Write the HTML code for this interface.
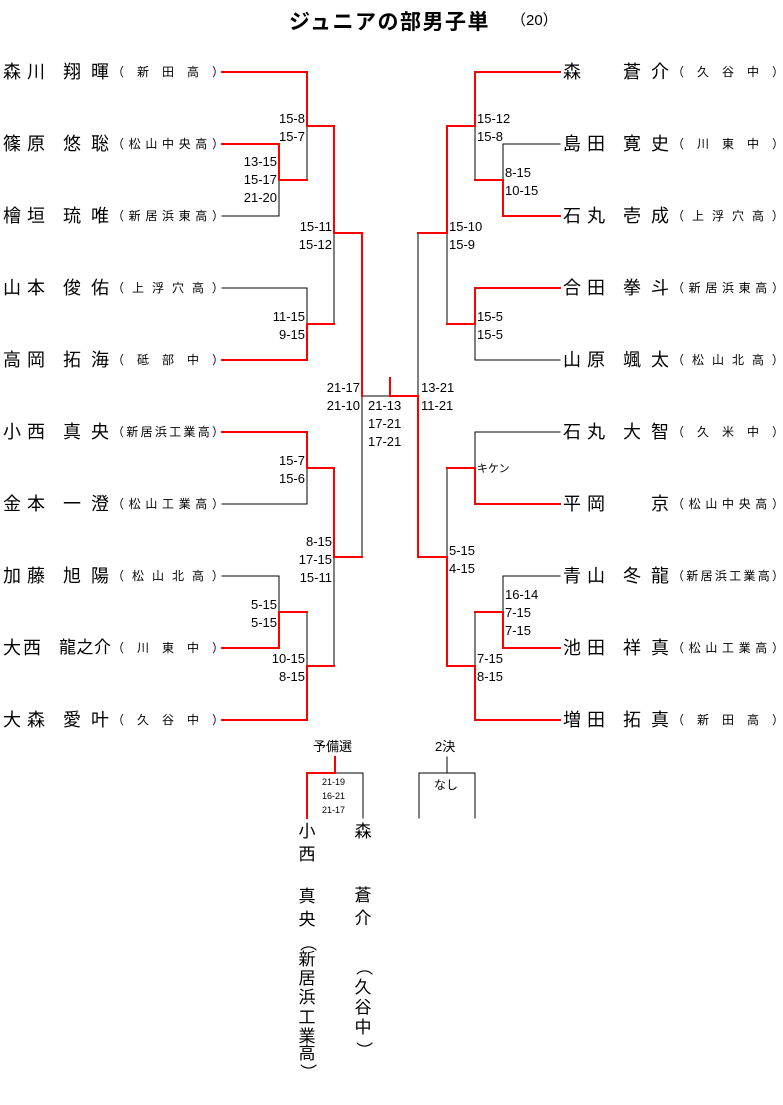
<!DOCTYPE html>
<html><head><meta charset="utf-8"><style>
body{margin:0;background:#fff;width:783px;height:1105px;position:relative;overflow:hidden;font-family:"Liberation Sans","Noto Sans CJK JP",sans-serif;color:#000}
.n{position:absolute;height:22px;font-size:18px;line-height:22px}
.f,.g,.s{position:absolute;top:0;display:flex;justify-content:space-between}
.f{left:0;width:42px}
.g{left:60px;width:46px}
.g.one{justify-content:flex-end}
.s{left:109px;width:112px;font-size:12px}
.sc{position:absolute;font-size:13px;line-height:18px;white-space:pre}
.r{text-align:right}
svg{position:absolute;left:0;top:0}
.v{position:absolute;font-size:17px;line-height:20px;width:20px;text-align:center}
.p{transform:rotate(90deg)}
</style></head><body>
<div style="position:absolute;left:289px;top:6px;font-size:21px;font-weight:bold;letter-spacing:1.5px">ジュニアの部男子単</div>
<div style="position:absolute;left:511px;top:9px;font-size:15px">（20）</div>

<svg width="783" height="1105" fill="none" stroke-linecap="square">
<g stroke="#000" stroke-width="1">
<path d="M222 216H279V180 M307 126V180 M222 288H307V324 M334 233V324 M362 396V557 M362 396H390 M222 504H307V468 M222 576H279V612 M307 612V666 M334 557V666"/>
<path d="M418 233V396 M560 144H503V180 M475 126V180 M447 233V324 M560 360H475V324 M560 432H475V468 M447 468V557 M560 576H503V612 M475 612V666"/>
<path d="M363 773H335 M363 773V818 M447 757V773 M419 818V773H475V818"/>
</g>
<g stroke="#f00" stroke-width="2">
<path d="M222 72H307V126H334V233H362V396 M222 144H279V180H307 M222 360H307V324H334 M222 432H307V468H334V557H362 M222 648H279V612H307 M222 720H307V666H334"/>
<path d="M390 378V396H418V557H447V666H475V720H560 M560 72H475V126H447V233H418 M560 216H503V180H475 M560 288H475V324H447 M447 468H475V504H560 M560 648H503V612H475 M447 666H475"/>
<path d="M335 757V773H307V818"/>
</g>
</svg>

<div class="n" style="left:3px;top:61px"><div class="f"><span>森</span><span>川</span></div><div class="g"><span>翔</span><span>暉</span></div><div class="s"><span>（</span><span>新</span><span>田</span><span>高</span><span>）</span></div></div>
<div class="n" style="left:3px;top:133px"><div class="f"><span>篠</span><span>原</span></div><div class="g"><span>悠</span><span>聡</span></div><div class="s"><span>（</span><span>松</span><span>山</span><span>中</span><span>央</span><span>高</span><span>）</span></div></div>
<div class="n" style="left:3px;top:205px"><div class="f"><span>檜</span><span>垣</span></div><div class="g"><span>琉</span><span>唯</span></div><div class="s"><span>（</span><span>新</span><span>居</span><span>浜</span><span>東</span><span>高</span><span>）</span></div></div>
<div class="n" style="left:3px;top:277px"><div class="f"><span>山</span><span>本</span></div><div class="g"><span>俊</span><span>佑</span></div><div class="s"><span>（</span><span>上</span><span>浮</span><span>穴</span><span>高</span><span>）</span></div></div>
<div class="n" style="left:3px;top:349px"><div class="f"><span>高</span><span>岡</span></div><div class="g"><span>拓</span><span>海</span></div><div class="s"><span>（</span><span>砥</span><span>部</span><span>中</span><span>）</span></div></div>
<div class="n" style="left:3px;top:421px"><div class="f"><span>小</span><span>西</span></div><div class="g"><span>真</span><span>央</span></div><div class="s"><span>（</span><span>新</span><span>居</span><span>浜</span><span>工</span><span>業</span><span>高</span><span>）</span></div></div>
<div class="n" style="left:3px;top:493px"><div class="f"><span>金</span><span>本</span></div><div class="g"><span>一</span><span>澄</span></div><div class="s"><span>（</span><span>松</span><span>山</span><span>工</span><span>業</span><span>高</span><span>）</span></div></div>
<div class="n" style="left:3px;top:565px"><div class="f"><span>加</span><span>藤</span></div><div class="g"><span>旭</span><span>陽</span></div><div class="s"><span>（</span><span>松</span><span>山</span><span>北</span><span>高</span><span>）</span></div></div>
<div class="n" style="left:3px;top:637px"><div class="f" style="width:38px"><span>大</span><span>西</span></div><div class="g" style="left:56px;width:52px;font-size:17px"><span>龍</span><span>之</span><span>介</span></div><div class="s"><span>（</span><span>川</span><span>東</span><span>中</span><span>）</span></div></div>
<div class="n" style="left:3px;top:709px"><div class="f"><span>大</span><span>森</span></div><div class="g"><span>愛</span><span>叶</span></div><div class="s"><span>（</span><span>久</span><span>谷</span><span>中</span><span>）</span></div></div>

<div class="n" style="left:563px;top:61px"><div class="f"><span>森</span></div><div class="g"><span>蒼</span><span>介</span></div><div class="s"><span>（</span><span>久</span><span>谷</span><span>中</span><span>）</span></div></div>
<div class="n" style="left:563px;top:133px"><div class="f"><span>島</span><span>田</span></div><div class="g"><span>寛</span><span>史</span></div><div class="s"><span>（</span><span>川</span><span>東</span><span>中</span><span>）</span></div></div>
<div class="n" style="left:563px;top:205px"><div class="f"><span>石</span><span>丸</span></div><div class="g"><span>壱</span><span>成</span></div><div class="s"><span>（</span><span>上</span><span>浮</span><span>穴</span><span>高</span><span>）</span></div></div>
<div class="n" style="left:563px;top:277px"><div class="f"><span>合</span><span>田</span></div><div class="g"><span>拳</span><span>斗</span></div><div class="s"><span>（</span><span>新</span><span>居</span><span>浜</span><span>東</span><span>高</span><span>）</span></div></div>
<div class="n" style="left:563px;top:349px"><div class="f"><span>山</span><span>原</span></div><div class="g"><span>颯</span><span>太</span></div><div class="s"><span>（</span><span>松</span><span>山</span><span>北</span><span>高</span><span>）</span></div></div>
<div class="n" style="left:563px;top:421px"><div class="f"><span>石</span><span>丸</span></div><div class="g"><span>大</span><span>智</span></div><div class="s"><span>（</span><span>久</span><span>米</span><span>中</span><span>）</span></div></div>
<div class="n" style="left:563px;top:493px"><div class="f"><span>平</span><span>岡</span></div><div class="g one"><span>京</span></div><div class="s"><span>（</span><span>松</span><span>山</span><span>中</span><span>央</span><span>高</span><span>）</span></div></div>
<div class="n" style="left:563px;top:565px"><div class="f"><span>青</span><span>山</span></div><div class="g"><span>冬</span><span>龍</span></div><div class="s"><span>（</span><span>新</span><span>居</span><span>浜</span><span>工</span><span>業</span><span>高</span><span>）</span></div></div>
<div class="n" style="left:563px;top:637px"><div class="f"><span>池</span><span>田</span></div><div class="g"><span>祥</span><span>真</span></div><div class="s"><span>（</span><span>松</span><span>山</span><span>工</span><span>業</span><span>高</span><span>）</span></div></div>
<div class="n" style="left:563px;top:709px"><div class="f"><span>増</span><span>田</span></div><div class="g"><span>拓</span><span>真</span></div><div class="s"><span>（</span><span>新</span><span>田</span><span>高</span><span>）</span></div></div>

<div class="sc r" style="right:478px;top:110px">15-8
15-7</div>
<div class="sc r" style="right:506px;top:153px">13-15
15-17
21-20</div>
<div class="sc r" style="right:451px;top:218px">15-11
15-12</div>
<div class="sc r" style="right:478px;top:308px">11-15
9-15</div>
<div class="sc r" style="right:423px;top:379px">21-17
21-10</div>
<div class="sc r" style="right:478px;top:452px">15-7
15-6</div>
<div class="sc r" style="right:451px;top:533px">8-15
17-15
15-11</div>
<div class="sc r" style="right:506px;top:596px">5-15
5-15</div>
<div class="sc r" style="right:478px;top:650px">10-15
8-15</div>
<div class="sc" style="left:368px;top:397px">21-13
17-21
17-21</div>
<div class="sc" style="left:421px;top:379px">13-21
11-21</div>
<div class="sc" style="left:477px;top:110px">15-12
15-8</div>
<div class="sc" style="left:505px;top:164px">8-15
10-15</div>
<div class="sc" style="left:449px;top:218px">15-10
15-9</div>
<div class="sc" style="left:477px;top:308px">15-5
15-5</div>
<div class="sc" style="left:477px;top:460px;font-size:11px">キケン</div>
<div class="sc" style="left:449px;top:542px">5-15
4-15</div>
<div class="sc" style="left:505px;top:586px">16-14
7-15
7-15</div>
<div class="sc" style="left:477px;top:650px">7-15
8-15</div>

<div class="sc" style="left:313px;top:738px;font-size:13px">予備選</div>
<div class="sc" style="left:435px;top:738px;font-size:13px">2決</div>
<div class="sc" style="left:434px;top:776px;font-size:12px">なし</div>
<div class="sc" style="left:322px;top:775px;font-size:9px;line-height:14px">21-19
16-21
21-17</div>

<div class="v" style="left:297px;top:822px">小</div>
<div class="v" style="left:297px;top:845px">西</div>
<div class="v" style="left:297px;top:887px">真</div>
<div class="v" style="left:297px;top:910px">央</div>
<div class="v p" style="left:297px;top:933px">（</div>
<div class="v" style="left:297px;top:950px">新</div>
<div class="v" style="left:297px;top:969px">居</div>
<div class="v" style="left:297px;top:988px">浜</div>
<div class="v" style="left:297px;top:1008px">工</div>
<div class="v" style="left:297px;top:1027px">業</div>
<div class="v" style="left:297px;top:1044px">高</div>
<div class="v p" style="left:297px;top:1062px">）</div>

<div class="v" style="left:353px;top:822px">森</div>
<div class="v" style="left:353px;top:886px">蒼</div>
<div class="v" style="left:353px;top:909px">介</div>
<div class="v p" style="left:353px;top:957px">（</div>
<div class="v" style="left:353px;top:978px">久</div>
<div class="v" style="left:353px;top:998px">谷</div>
<div class="v" style="left:353px;top:1018px">中</div>
<div class="v p" style="left:353px;top:1040px">）</div>
</body></html>
